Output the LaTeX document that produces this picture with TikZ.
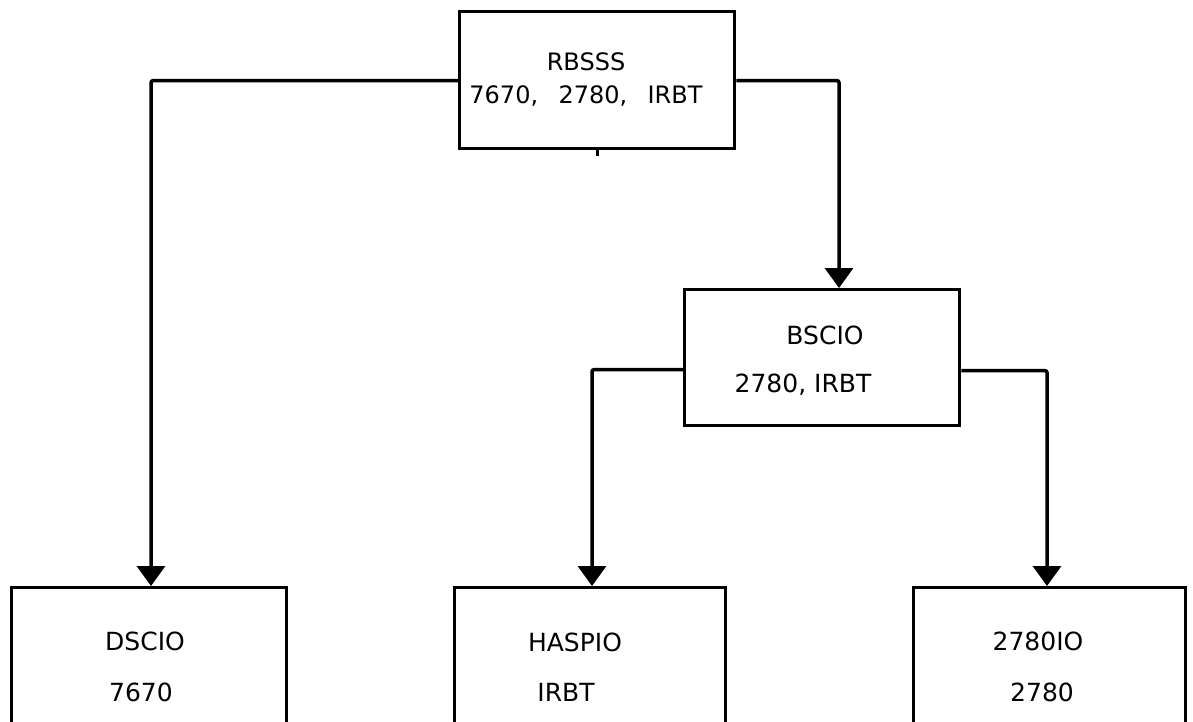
\documentclass[tikz,border=0pt]{standalone}
\usepackage{fontspec}
\setmainfont{DejaVu Sans}
\usetikzlibrary{arrows.meta,calc}
\begin{document}
\begin{tikzpicture}[x=1pt,y=-1pt,
  box/.style={draw,line width=3.3pt,rectangle,inner sep=0pt,align=center,anchor=north west},
  conn/.style={line width=3.5pt,rounded corners=2pt,-{Triangle[width=28pt,length=20pt]}},
  lbl/.style={inner sep=0pt,anchor=center}]
\useasboundingbox (0,0) rectangle (1193,721);
% boxes
\node[box,minimum width=275pt,minimum height=137pt] (rbsss) at (458,10) {};
\node[box,minimum width=275pt,minimum height=136pt] (bscio) at (683,288) {};
\node[box,minimum width=275pt,minimum height=160pt] (dscio) at (10,586) {};
\node[box,minimum width=271pt,minimum height=160pt] (haspio) at (453,586) {};
\node[box,minimum width=272pt,minimum height=160pt] (io2780) at (912,586) {};
% texts
\node[lbl,font=\fontsize{24}{28}\selectfont] (t1) at (586,62) {RBSSS};
\node[lbl,font=\fontsize{24}{28}\selectfont] (t2) at (586,96) {7670,\hspace{0.85em}2780,\hspace{0.85em}IRBT};
\node[lbl,font=\fontsize{25}{28}\selectfont] (t3) at (825,335) {BSCIO};
\node[lbl,font=\fontsize{25}{28}\selectfont] (t4) at (803,385) {2780, IRBT};
\node[lbl,font=\fontsize{25}{28}\selectfont] (t5) at (145,641) {DSCIO};
\node[lbl,font=\fontsize{25}{28}\selectfont] (t6) at (141,692) {7670};
\node[lbl,font=\fontsize{25}{28}\selectfont] (t7) at (575,642) {HASPIO};
\node[lbl,font=\fontsize{25}{28}\selectfont] (t8) at (566,692) {IRBT};
\node[lbl,font=\fontsize{25}{28}\selectfont] (t9) at (1038,641) {2780IO};
\node[lbl,font=\fontsize{25}{28}\selectfont] (t10) at (1042,692) {2780};
% connector anchor points
\coordinate (a1) at ($(dscio.north west)+(141,0)$);
\coordinate (a2) at ($(bscio.north west)+(156,0)$);
\coordinate (a3) at ($(haspio.north west)+(139,0)$);
\coordinate (a4) at ($(io2780.north west)+(135,0)$);
\coordinate (s1) at ($(rbsss.south west)+(139,0)$);
\coordinate (s2) at ($(s1)+(0,6)$);
% connectors
\draw[conn] ($(rbsss.west)+(0,0.5)$) -| (a1);
\draw[conn] ($(rbsss.east)+(0,0.5)$) -| (a2);
\draw[conn] ($(bscio.west)+(0,12)$) -| (a3);
\draw[conn] ($(bscio.east)+(0,13)$) -| (a4);
\draw[line width=3pt] (s1) -- (s2);
\end{tikzpicture}
\end{document}
